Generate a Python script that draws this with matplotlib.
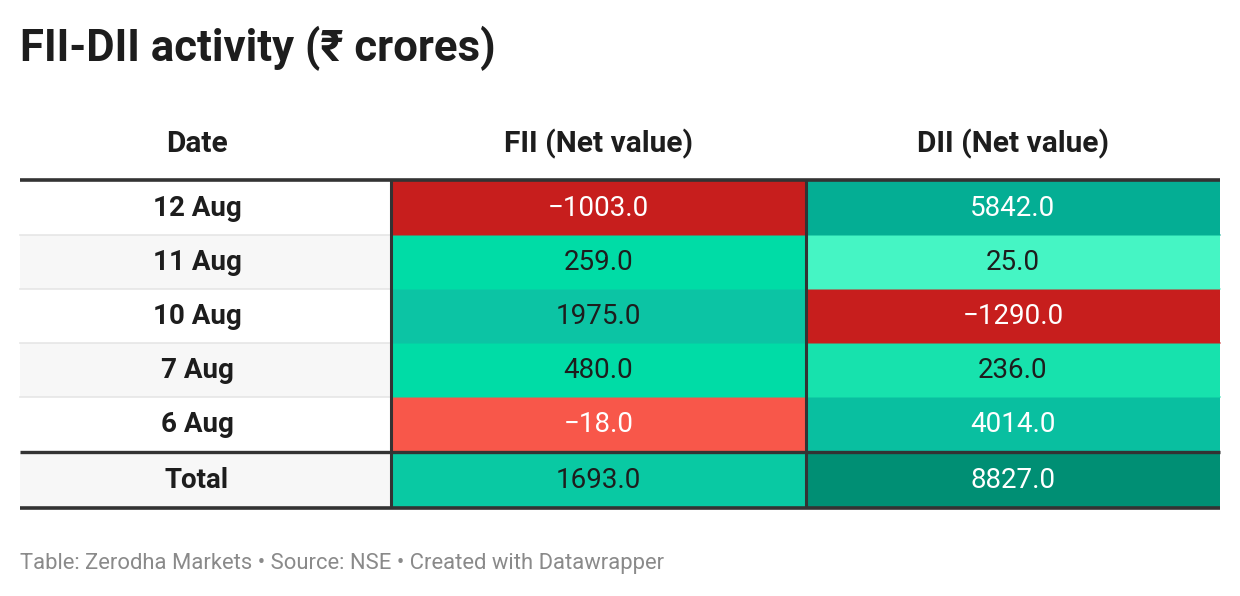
import numpy as np
import matplotlib
matplotlib.use("Agg")
import matplotlib.pyplot as plt
from matplotlib.colors import ListedColormap, BoundaryNorm, to_rgb
from matplotlib.patches import Rectangle

plt.rcParams['font.family'] = ['Roboto', 'DejaVu Sans']

# data
dates = ['12 Aug', '11 Aug', '10 Aug', '7 Aug', '6 Aug']
fii = [-1003.0, 259.0, 1975.0, 480.0, -18.0]
dii = [5842.0, 25.0, -1290.0, 236.0, 4014.0]
totals = [1693.0, 8827.0]
headers = ['Date', 'FII (Net value)', 'DII (Net value)']

# stepped colour scale like the datawrapper one
bounds = [-1e5, -500, 0, 100, 250, 1000, 1800, 3000, 5000, 7000, 1e5]
colors = ['#c71e1d', '#f8574a', '#45f5c4', '#17e2ad', '#00dca6',
          '#09c9a3', '#0cc4a4', '#09bfa0', '#04ae94', '#008f74']
cmap = ListedColormap(colors)
norm = BoundaryNorm(bounds, cmap.N)


def lum(c):
    rgb = np.array(to_rgb(c))
    lin = np.where(rgb <= 0.03928, rgb / 12.92, ((rgb + 0.055) / 1.055) ** 2.4)
    return 0.2126 * lin[0] + 0.7152 * lin[1] + 0.0722 * lin[2]


fig = plt.figure(figsize=(12.4, 5.96), dpi=100)
ax = fig.add_axes([0, 0, 1, 1])
ax.set_xlim(0, 1240)
ax.set_ylim(596, 0)
ax.axis('off')

left, right = 20, 1220
col_edges = [left, 391, 806, right]
date_pad = 17  # date text sits a little left of the column centre
top = 181
row_h = 54

ax.text(20, 48, 'FII-DII activity (₹ crores)', fontsize=31.5, fontweight='bold',
        color='#1d1d1d', va='center', ha='left')

for i, h in enumerate(headers):
    xc = (col_edges[i] + col_edges[i + 1]) / 2 - (date_pad / 2 if i == 0 else 0)
    ax.text(xc, 144, h, fontsize=21.5, fontweight='bold', color='#1d1d1d',
            ha='center', va='center')

labels = dates + ['Total']
fii_all = fii + [totals[0]]
dii_all = dii + [totals[1]]

for r, lab in enumerate(labels):
    y0 = top + r * row_h + (2 if r == len(dates) else 0)
    bg = '#f7f7f7' if r % 2 == 1 or r == len(dates) else 'white'
    ax.add_patch(Rectangle((col_edges[0], y0), col_edges[1] - col_edges[0], row_h,
                           facecolor=bg, edgecolor='none'))
    if r < len(dates) - 1:
        ax.plot([col_edges[0], col_edges[1]], [y0 + row_h, y0 + row_h],
                color='#e6e6e6', lw=1.2, zorder=3)
    ax.text((col_edges[0] + col_edges[1] - date_pad) / 2, y0 + row_h / 2 + 1, lab,
            fontsize=20, fontweight='bold', color='#1d1d1d',
            ha='center', va='center')
    for c, v in enumerate([fii_all[r], dii_all[r]]):
        fc = cmap(norm(v))
        x0 = col_edges[c + 1]
        ax.add_patch(Rectangle((x0, y0), col_edges[c + 2] - x0, row_h,
                               facecolor=fc, edgecolor='none'))
        if r < len(dates) - 1:
            ax.plot([x0, col_edges[c + 2]], [y0 + row_h, y0 + row_h],
                    color=fc, lw=1.2, zorder=3, alpha=0.6)
        tc = 'white' if lum(fc) < 0.41 else '#1d1d1d'
        ax.text((x0 + col_edges[c + 2]) / 2, y0 + row_h / 2 + 1,
                '{:.1f}'.format(v).replace('-', '\u2212'),
                fontsize=20, color=tc, ha='center', va='center')

# heavy rules
line_c = '#333333'
ax.plot([left, right], [top - 1, top - 1], color=line_c, lw=2.6, zorder=5,
        solid_capstyle='butt')
sep_y = top + len(dates) * row_h + 1
ax.plot([left, right], [sep_y, sep_y], color=line_c, lw=2.4, zorder=5,
        solid_capstyle='butt')
bot_y = sep_y + row_h + 2
ax.plot([left, right], [bot_y, bot_y], color=line_c, lw=2.6, zorder=5,
        solid_capstyle='butt')
for xv in col_edges[1:3]:
    ax.plot([xv, xv], [top - 1, bot_y], color=line_c, lw=2.2, zorder=5,
            solid_capstyle='butt')

ax.text(20, 563, 'Table: Zerodha Markets \u2022 Source: NSE \u2022 Created with Datawrapper',
        fontsize=15.8, color='#8a8a8a', ha='left', va='center')

fig.savefig('out.png', dpi=100, facecolor='white')
